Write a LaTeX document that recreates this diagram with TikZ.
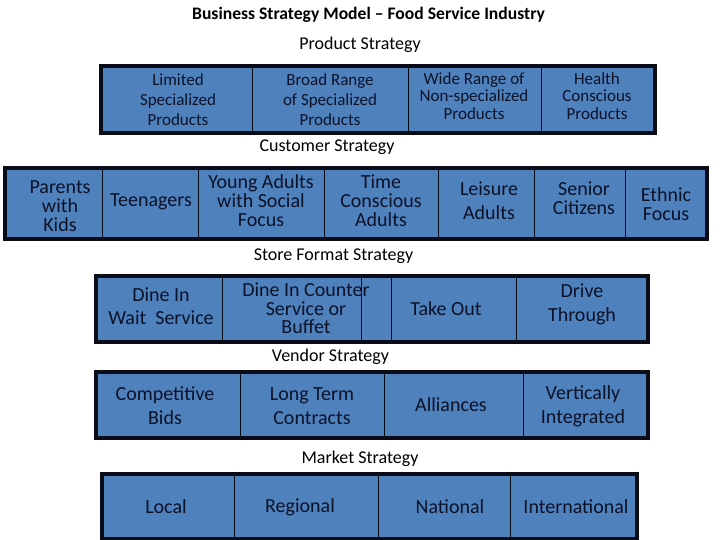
\documentclass[tikz,border=0pt]{standalone}
\usepackage{fontspec}
\setmainfont{Carlito}
\usetikzlibrary{fit}
\definecolor{cellblue}{RGB}{79,129,189}
\definecolor{edgeink}{RGB}{10,12,24}
\definecolor{ink}{RGB}{12,18,40}
\tikzset{
  cellbox/.style={draw=edgeink, line width=1pt, fill=cellblue, inner sep=0pt, outer sep=0pt},
  rowframe/.style={draw=edgeink, line width=3.5pt},
  celltext/.style={text=ink, align=center, inner sep=0pt, font=\fontsize{20}{19}\selectfont},
  smalltext/.style={celltext, font=\fontsize{17}{20}\selectfont},
  tighttext/.style={celltext, font=\fontsize{17}{17.5}\selectfont},
  widetext/.style={celltext, font=\fontsize{20}{24}\selectfont},
  heading/.style={text=black, inner sep=0pt, anchor=base, font=\fontsize{18}{22}\selectfont},
  titletext/.style={heading, font=\fontsize{17.6}{22}\selectfont\bfseries},
}
\newcommand\mkcell[5]{\node[cellbox, fit={(#2,#3) (#4,#5)}] (#1) {};}
\begin{document}
\begin{tikzpicture}[x=1pt,y=-1pt]
\useasboundingbox (0,0) rectangle (720,540);
\fill[white] (0,0) rectangle (720,540);

% headings
\node[titletext] (title) at (368.5,20) {Business Strategy Model -- Food Service Industry};
\node[heading] (hprod) at (360,50) {Product Strategy};
\node[heading] (hcust) at (327,152) {Customer Strategy};
\node[heading] (hstore) at (333.5,260.5) {Store Format Strategy};
\node[heading] (hvend) at (330.5,361) {Vendor Strategy};
\node[heading] (hmark) at (360,463.5) {Market Strategy};

% row 1: product strategy
\mkcell{r1a}{101}{66}{252}{133}
\mkcell{r1b}{252}{66}{408}{133}
\mkcell{r1c}{408}{66}{541}{133}
\mkcell{r1d}{541}{66}{655}{133}
\draw[rowframe] (r1a.north west) rectangle (r1d.south east);
\node[smalltext] (t1a) at (178,100) {Limited\\Specialized\\Products};
\node[smalltext] (t1b) at (330,100) {Broad Range\\of Specialized\\Products};
\node[tighttext] (t1c) at (474,96) {Wide Range of\\Non-specialized\\Products};
\node[tighttext] (t1d) at (597,96) {Health\\Conscious\\Products};

% row 2: customer strategy
\mkcell{r2a}{5}{168}{102}{239}
\mkcell{r2b}{102}{168}{198}{239}
\mkcell{r2c}{198}{168}{324}{239}
\mkcell{r2d}{324}{168}{438}{239}
\mkcell{r2e}{438}{168}{534}{239}
\mkcell{r2f}{534}{168}{625}{239}
\mkcell{r2g}{625}{168}{707}{239}
\draw[rowframe] (r2a.north west) rectangle (r2g.south east);
\node[celltext] (t2a) at (60,206) {Parents\\with\\Kids};
\node[celltext] (t2b) at (151,202) {Teenagers};
\node[celltext] (t2c) at (261,201) {Young Adults\\with Social\\Focus};
\node[celltext] (t2d) at (381,201) {Time\\Conscious\\Adults};
\node[widetext] (t2e) at (489,201) {Leisure\\Adults};
\node[celltext] (t2f) at (584,198.5) {Senior\\Citizens};
\node[celltext] (t2g) at (666,204.5) {Ethnic\\Focus};

% row 3: store format strategy
\mkcell{r3a}{96}{276}{222}{342}
\mkcell{r3b}{222}{276}{361}{342}
\mkcell{r3c}{361}{276}{391}{342}
\mkcell{r3d}{391}{276}{516}{342}
\mkcell{r3e}{516}{276}{648}{342}
\draw[rowframe] (r3a.north west) rectangle (r3e.south east);
\node[celltext, font=\fontsize{20}{23}\selectfont] (t3a) at (161,306.5) {Dine In\\Wait\ \ Service};
\node[celltext, font=\fontsize{20}{18.5}\selectfont] (t3b) at (306,308.5) {Dine In Counter\\Service or\\Buffet};
\node[celltext] (t3d) at (446,309) {Take Out};
\node[widetext] (t3e) at (582,304) {Drive\\Through};

% row 4: vendor strategy
\mkcell{r4a}{96}{372}{240}{438}
\mkcell{r4b}{240}{372}{384}{438}
\mkcell{r4c}{384}{372}{523}{438}
\mkcell{r4d}{523}{372}{648}{438}
\draw[rowframe] (r4a.north west) rectangle (r4d.south east);
\node[widetext] (t4a) at (165,406) {Competitive\\Bids};
\node[widetext] (t4b) at (312,406) {Long Term\\Contracts};
\node[widetext] (t4c) at (451,405) {Alliances};
\node[widetext] (t4d) at (583,406) {Vertically\\Integrated};

% row 5: market strategy
\mkcell{r5a}{102}{474}{234}{539}
\mkcell{r5b}{234}{474}{378}{539}
\mkcell{r5c}{378}{474}{510}{539}
\mkcell{r5d}{510}{474}{637}{539}
\draw[rowframe] (r5a.north west) rectangle (r5d.south east);
\node[widetext] (t5a) at (166,507) {Local};
\node[widetext] (t5b) at (300,507) {Regional};
\node[widetext] (t5c) at (450,507) {National};
\node[widetext] (t5d) at (576,507) {International};
\end{tikzpicture}
\end{document}
